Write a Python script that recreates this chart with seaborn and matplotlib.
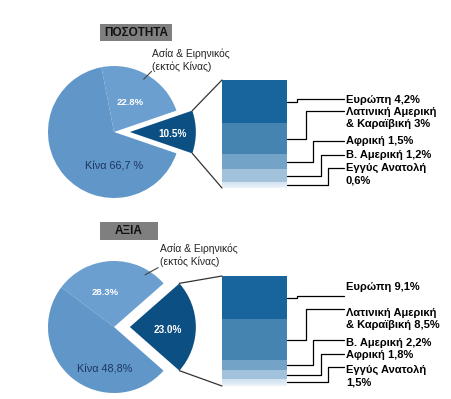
import numpy as np
import matplotlib.pyplot as plt
import seaborn as sns
from matplotlib.patches import ConnectionPatch, Rectangle
from matplotlib.lines import Line2D

sns.set_theme(style="white")
plt.rcParams['font.family'] = ['Liberation Sans', 'DejaVu Sans']

W, H = 451, 399

# --- data -------------------------------------------------------------
# main pie: [rest of world, Asia & Pacific, China]
qty_titles = "ΠΟΣΟΤΗΤΑ"
qty_main = [10.5, 22.8, 66.7]
qty_pie_labels = ["10.5%", "22.8%", "Κίνα 66,7 %"]
qty_regions = ["Ευρώπη 4,2%", "Λατινική Αμερική\n& Καραϊβική 3%", "Αφρική 1,5%",
               "Β. Αμερική 1,2%", "Εγγύς Ανατολή\n0,6%"]
qty_region_vals = [4.2, 3.0, 1.5, 1.2, 0.6]

val_titles = "ΑΞΙΑ"
val_main = [23.0, 28.3, 48.8]
val_pie_labels = ["23.0%", "28.3%", "Κίνα 48,8%"]
val_regions = ["Ευρώπη 9,1%", "Λατινική Αμερική\n& Καραϊβική 8,5%", "Β. Αμερική 2,2%",
               "Αφρική 1,8%", "Εγγύς Ανατολή\n1,5%"]
val_region_vals = [9.1, 8.5, 2.2, 1.8, 1.5]

asia_label = "Ασία & Ειρηνικός\n(εκτός Κίνας)"

pie_colors = ["#0c4f82", "#6b9fcf", "#6196c9"]
bar_colors = sns.blend_palette(["#17659c", "#cfe1f0"], 5)

fig = plt.figure(figsize=(W / 100, H / 100), dpi=100)
fig.patch.set_facecolor("white")


def fx(x):
    return x / W


def fy(y):
    return 1 - y / H


def to_fig(ax, pt):
    return fig.transFigure.inverted().transform(ax.transData.transform(pt))


def draw_panel(title, box, main, pie_lbls, lbl_pos, asia_pos, leader,
               center, radius, bar_box, regions, vals,
               elbow_x, line_y, text_y):
    # title box
    x0, y0, x1, y1 = box
    fig.add_artist(Rectangle((fx(x0), fy(y1)), fx(x1) - fx(x0), fy(y0) - fy(y1),
                             transform=fig.transFigure, color="#7f7f7f", lw=0))
    fig.text(fx((x0 + x1) / 2), fy((y0 + y1) / 2), title, ha="center", va="center",
             fontsize=8.5, fontweight="bold", color="#111111")

    # pie
    cx, cy = center
    half = 1.3 * radius
    ax = fig.add_axes([fx(cx - half), fy(cy + half), 2 * half / W, 2 * half / H])
    explode = 0.24
    theta = main[0] / 100 * 180
    ax.pie(main, colors=pie_colors, startangle=-theta, counterclock=True,
           explode=[explode, 0, 0], radius=1,
           wedgeprops=dict(linewidth=0))
    ax.set_xlim(-1.3, 1.3)
    ax.set_ylim(-1.3, 1.3)
    ax.set_aspect("equal")
    ax.axis("off")

    styles = [dict(color="white", fontweight="bold", fontsize=7.2),
              dict(color="white", fontweight="bold", fontsize=6.8),
              dict(color="#1d3660", fontsize=7.8)]
    for lbl, (px, py), st in zip(pie_lbls, lbl_pos, styles):
        ax.text(px, py, lbl, ha="center", va="center", **st)

    ax.text(asia_pos[0], asia_pos[1], asia_label, ha="left", va="top",
            fontsize=7.4, color="#222222", linespacing=1.25)
    ax.plot([leader[0], leader[2]], [leader[1], leader[3]], color="#444444", lw=0.8)

    # stacked column
    bx0, by0, bx1, by1 = bar_box
    axb = fig.add_axes([fx(bx0), fy(by1), (bx1 - bx0) / W, (by1 - by0) / H])
    total = sum(vals)
    bottoms = np.concatenate([[0], np.cumsum(vals)[:-1]])
    axb.bar(np.zeros(len(vals)), vals, bottom=bottoms, width=1,
            color=bar_colors, linewidth=0)
    # soft fade towards white at the foot of the column
    fade = np.zeros((32, 1, 4))
    fade[..., :3] = 1.0
    fade[:, 0, 3] = np.linspace(0, 0.75, 32) ** 1.5
    axb.imshow(fade, extent=(-0.5, 0.5, total, total * 0.93), aspect="auto",
               interpolation="bilinear", zorder=3)
    axb.set_xlim(-0.5, 0.5)
    axb.set_ylim(total, 0)
    axb.axis("off")

    # connectors pie -> column
    t = np.deg2rad(theta)
    for sgn, yb in [(1, 0), (-1, total)]:
        con = ConnectionPatch(xyA=(explode + np.cos(t), sgn * np.sin(t)), coordsA=ax.transData,
                              xyB=(-0.5, yb), coordsB=axb.transData,
                              color="#333333", lw=0.9)
        fig.add_artist(con)

    # labels with elbow leader lines
    for i, (name, b, v) in enumerate(zip(regions, bottoms, vals)):
        sx, sy = to_fig(axb, (0.5, b + v / 2))
        ex = fx(elbow_x[i])
        ly = fy(line_y[i])
        fig.add_artist(Line2D([sx, ex, ex, fx(344)], [sy, sy, ly, ly],
                              transform=fig.transFigure, color="black", lw=0.9))
        fig.text(fx(346), fy(text_y[i]), name, ha="left", va="top",
                 fontsize=8, fontweight="bold", color="black", linespacing=1.25)


draw_panel(qty_titles, (100, 24, 172, 41), qty_main, qty_pie_labels,
           [(0.89, -0.03), (0.24, 0.45), (0.0, -0.53)],
           (0.57, 1.26), (0.45, 0.80, 0.57, 0.92),
           (114, 132), 66, (222, 80, 287, 188),
           qty_regions, qty_region_vals,
           [297, 306, 313, 321, 328], [99, 111, 141, 155, 168],
           [95, 107, 136, 150, 163])

draw_panel(val_titles, (100, 222, 158, 240), val_main, val_pie_labels,
           [(0.82, -0.05), (-0.14, 0.52), (-0.14, -0.65)],
           (0.70, 1.26), (0.47, 0.79, 0.67, 0.90),
           (114, 327), 66, (222, 276, 287, 386),
           val_regions, val_region_vals,
           [297, 306, 313, 321, 328], [296, 309, 340, 354, 367],
           [282, 308, 338, 350, 365])

fig.savefig("out.png", dpi=100, facecolor="white")
